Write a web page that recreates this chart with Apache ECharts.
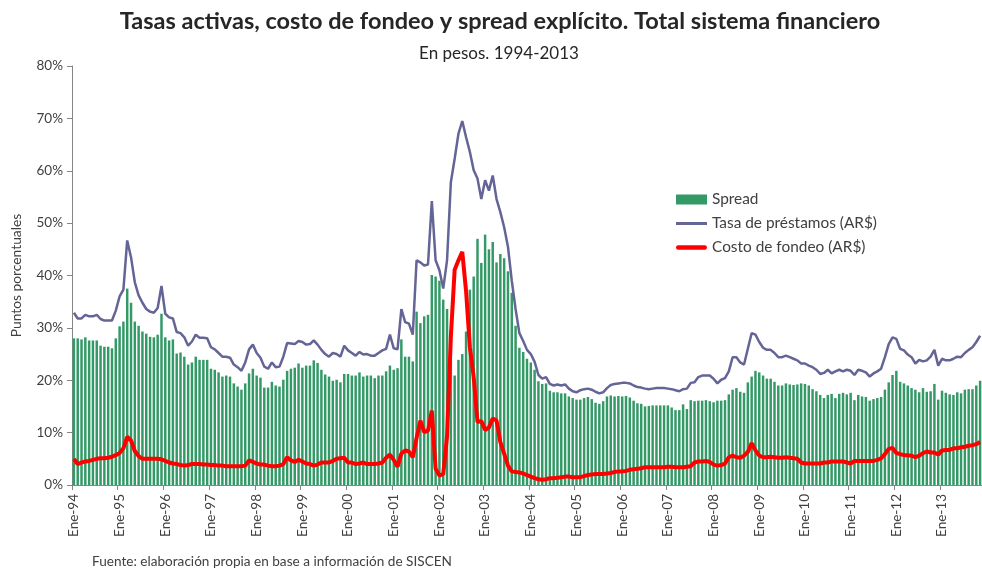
<!DOCTYPE html>
<html>
<head>
<meta charset="utf-8">
<script src="https://cdn.jsdelivr.net/npm/echarts@6/dist/echarts.min.js"></script>
<style>
  html, body { margin: 0; padding: 0; background: #fff; }
  #chart { width: 982px; height: 572px; }
</style>
</head>
<body>
<div id="chart"></div>
<script>
// meses Ene-94 .. Nov-13 (239 observaciones)
const monthNames = ['Ene','Feb','Mar','Abr','May','Jun','Jul','Ago','Sep','Oct','Nov','Dic'];
const yearLabels = ['94','95','96','97','98','99','00','01','02','03','04','05','06','07','08','09','10','11','12','13'];
const categories = [];
yearLabels.forEach(y => monthNames.forEach(m => categories.push(m + '-' + y)));
categories.length = 239;

// Spread (barras verdes), en %
const spread = [
  28.0, 28.0, 27.8, 28.2, 27.6, 27.6, 27.6, 26.6, 26.4, 26.4, 26.1, 28.0,
  30.3, 31.2, 37.5, 34.8, 31.2, 30.4, 29.3, 28.9, 28.3, 28.2, 28.7, 32.7,
  28.2, 27.6, 27.8, 25.1, 25.3, 24.5, 23.0, 23.4, 24.5, 23.9, 23.9, 23.9,
  22.2, 22.0, 21.5, 20.7, 20.9, 20.7, 19.4, 18.8, 18.2, 19.4, 21.3, 22.2,
  20.9, 20.5, 18.6, 18.6, 19.7, 19.0, 18.8, 20.1, 21.8, 22.2, 22.4, 23.2,
  22.4, 22.8, 22.8, 23.8, 23.3, 22.0, 21.1, 20.7, 19.9, 20.1, 19.6, 21.2,
  21.2, 20.9, 20.9, 21.5, 20.7, 20.9, 20.9, 20.4, 20.9, 20.9, 21.7, 22.8,
  22.0, 22.3, 27.8, 24.5, 24.5, 23.6, 33.1, 30.9, 32.2, 32.5, 40.1, 39.8,
  39.0, 35.4, 33.6, 29.5, 20.9, 23.9, 25.0, 29.3, 37.3, 39.8, 47.0, 42.4,
  47.8, 45.0, 46.4, 42.5, 44.1, 43.3, 40.8, 36.7, 30.4, 26.2, 25.4, 24.1,
  23.4, 22.0, 19.8, 19.3, 19.4, 18.0, 17.7, 17.7, 17.5, 17.5, 16.9, 16.6,
  16.3, 16.3, 16.6, 16.8, 16.4, 15.7, 15.5, 16.0, 16.9, 17.1, 16.9, 17.0,
  16.9, 17.0, 16.7, 16.1, 15.6, 15.5, 15.0, 15.1, 15.2, 15.2, 15.2, 15.2,
  15.2, 14.8, 14.3, 14.3, 15.4, 14.5, 16.2, 16.0, 16.1, 16.1, 16.2, 16.0,
  15.8, 16.1, 16.1, 16.2, 17.3, 18.2, 18.5, 17.8, 17.6, 19.6, 20.7, 21.8,
  21.5, 20.9, 20.3, 20.3, 19.7, 19.0, 19.0, 19.4, 19.2, 19.1, 19.2, 19.4,
  19.3, 19.0, 18.3, 17.9, 17.2, 16.6, 17.2, 17.4, 16.6, 17.4, 17.6, 17.3,
  17.6, 16.2, 17.2, 16.9, 16.8, 16.1, 16.4, 16.6, 16.8, 18.2, 19.6, 21.0,
  21.8, 19.7, 19.4, 19.0, 18.5, 18.2, 17.7, 18.5, 17.8, 17.9, 19.3, 16.3,
  18.0, 17.6, 17.3, 17.2, 17.7, 17.5, 18.2, 18.3, 18.3, 19.0, 19.9
];

// Tasa de préstamos (AR$), en %
const tasaPrestamos = [
  32.9, 31.8, 31.8, 32.5, 32.2, 32.2, 32.5, 31.7, 31.4, 31.4, 31.4, 33.3,
  36.0, 37.3, 46.7, 43.5, 38.7, 36.2, 34.8, 33.6, 33.1, 32.9, 33.8, 38.0,
  32.7, 32.0, 31.8, 29.2, 29.0, 28.2, 26.6, 27.4, 28.7, 28.1, 28.1, 28.0,
  26.3, 25.9, 25.2, 24.5, 24.5, 24.3, 23.0, 22.5, 21.8, 23.4, 25.9, 26.8,
  25.2, 24.3, 22.6, 22.2, 23.4, 22.5, 22.6, 24.5, 27.1, 27.0, 26.9, 27.5,
  27.3, 26.8, 26.9, 27.6, 26.8, 25.8, 25.0, 24.5, 25.2, 25.0, 24.5, 26.6,
  25.7, 25.2, 24.7, 25.4, 24.9, 25.0, 24.7, 24.7, 25.2, 25.7, 26.0, 28.7,
  26.1, 25.9, 33.6, 31.1, 30.8, 28.7, 42.9, 42.5, 41.9, 42.1, 54.2, 42.9,
  41.0, 37.5, 42.9, 57.8, 62.3, 67.1, 69.5, 66.4, 63.6, 60.1, 58.5, 54.6,
  58.2, 56.2, 59.1, 54.6, 52.1, 49.2, 45.5, 39.0, 33.6, 29.0, 27.5, 25.8,
  25.0, 23.5, 21.0, 20.3, 20.6, 19.3, 19.0, 19.2, 19.0, 19.2, 18.4, 17.9,
  17.7, 18.1, 18.3, 18.4, 18.2, 17.8, 17.5, 17.7, 18.5, 19.1, 19.3, 19.4,
  19.5, 19.5, 19.4, 19.0, 18.7, 18.6, 18.4, 18.3, 18.4, 18.5, 18.5, 18.5,
  18.4, 18.3, 18.1, 17.9, 18.3, 18.4, 19.5, 19.6, 20.6, 20.9, 20.9, 20.9,
  20.3, 19.4, 20.1, 20.4, 21.7, 24.4, 24.4, 23.4, 23.0, 26.0, 29.0, 28.7,
  27.3, 26.2, 25.8, 25.8, 25.2, 24.4, 24.4, 24.7, 24.4, 24.1, 23.8, 23.2,
  23.2, 22.8, 22.5, 22.0, 21.2, 21.4, 22.0, 21.3, 21.7, 22.0, 21.7, 22.0,
  21.8, 21.0, 22.0, 21.8, 21.5, 20.7, 21.3, 21.7, 22.2, 24.4, 26.9, 28.2,
  27.9, 26.0, 25.7, 24.9, 24.4, 23.2, 23.9, 23.6, 23.8, 24.5, 25.8, 22.8,
  24.1, 23.8, 23.8, 24.1, 24.5, 24.4, 25.2, 25.8, 26.3, 27.3, 28.5
];

// Costo de fondeo (AR$), en %
const costoFondeo = [
  5.0, 4.0, 4.3, 4.5, 4.6, 4.8, 5.0, 5.1, 5.1, 5.2, 5.4, 5.7,
  6.1, 7.0, 9.2, 8.5, 6.5, 5.5, 5.0, 5.0, 5.0, 5.0, 5.0, 4.9,
  4.6, 4.3, 4.1, 4.0, 3.8, 3.7, 3.8, 4.0, 4.0, 4.0, 3.9, 3.9,
  3.8, 3.8, 3.7, 3.7, 3.6, 3.6, 3.6, 3.6, 3.6, 3.7, 4.7, 4.4,
  4.1, 3.9, 3.9, 3.7, 3.6, 3.6, 3.7, 4.0, 5.3, 4.7, 4.4, 4.8,
  4.5, 4.1, 4.0, 3.7, 3.9, 4.3, 4.3, 4.3, 4.6, 5.0, 5.1, 5.2,
  4.3, 4.3, 4.0, 4.1, 4.3, 4.0, 4.0, 4.0, 4.1, 4.3, 5.2, 5.8,
  4.8, 3.5, 6.0, 6.6, 6.4, 5.3, 9.0, 12.3, 10.1, 10.4, 14.2, 3.1,
  1.8, 2.1, 9.3, 28.3, 41.1, 42.9, 44.5, 37.0, 26.3, 20.6, 12.0, 12.2,
  10.5, 11.0, 12.7, 12.3, 8.2, 6.0, 3.7, 2.6, 2.5, 2.4, 2.2, 1.9,
  1.6, 1.3, 1.1, 1.0, 1.1, 1.3, 1.3, 1.4, 1.5, 1.6, 1.6, 1.5,
  1.5, 1.5, 1.7, 1.9, 2.0, 2.1, 2.1, 2.1, 2.2, 2.3, 2.5, 2.6,
  2.6, 2.7, 2.9, 3.0, 3.1, 3.2, 3.4, 3.4, 3.4, 3.4, 3.4, 3.4,
  3.5, 3.5, 3.4, 3.4, 3.4, 3.5, 3.6, 4.3, 4.5, 4.5, 4.6, 4.4,
  3.9, 3.7, 3.8, 4.1, 5.3, 5.6, 5.3, 5.2, 5.6, 6.3, 8.0, 6.6,
  5.6, 5.3, 5.3, 5.4, 5.3, 5.2, 5.2, 5.3, 5.2, 5.1, 5.0, 4.3,
  4.1, 4.1, 4.1, 4.1, 4.1, 4.3, 4.3, 4.5, 4.5, 4.5, 4.5, 4.3,
  4.1, 4.6, 4.6, 4.6, 4.6, 4.6, 4.6, 4.8, 5.1, 5.9, 6.9, 7.1,
  6.1, 5.9, 5.7, 5.7, 5.6, 5.3, 5.6, 6.1, 6.4, 6.2, 6.2, 5.8,
  6.6, 6.7, 6.7, 7.0, 7.0, 7.2, 7.3, 7.5, 7.6, 7.8, 8.2
];

const yTicks = [0, 10, 20, 30, 40, 50, 60, 70, 80];

const FONT = 'Lato, "Liberation Sans", sans-serif';
const chart = echarts.init(document.getElementById('chart'));

chart.setOption({
  animation: false,
  textStyle: { fontFamily: FONT },
  title: [
    {
      text: 'Tasas activas, costo de fondeo y spread explícito. Total sistema financiero',
      left: 500, top: 9, textAlign: 'center', padding: 0,
      textStyle: { fontSize: 23.5, fontWeight: 'bold', color: '#262626', fontFamily: FONT }
    },
    {
      text: 'En pesos. 1994-2013',
      left: 499, top: 45, textAlign: 'center', padding: 0,
      textStyle: { fontSize: 17, fontWeight: 'normal', color: '#262626', fontFamily: FONT }
    },
    {
      text: 'Fuente: elaboración propia en base a información de SISCEN',
      left: 92, top: 555, padding: 0,
      textStyle: { fontSize: 13.6, fontWeight: 'normal', color: '#404040', fontFamily: FONT }
    }
  ],
  legend: {
    orient: 'vertical',
    left: 676, top: 192, padding: 0,
    itemWidth: 31, itemHeight: 10, itemGap: 9,
    textStyle: { fontSize: 15.4, color: '#404040', fontFamily: FONT, padding: [0, 0, 0, 0] },
    data: [
      { name: 'Spread', icon: 'rect' },
      { name: 'Tasa de préstamos (AR$)', icon: 'path://M0,0H31V3H0Z' },
      { name: 'Costo de fondeo (AR$)', icon: 'path://M2,0H29A2,2 0 0 1 29,4.5H2A2,2 0 0 1 2,0Z' }
    ]
  },
  grid: { left: 72, right: 0, top: 66, bottom: 87, containLabel: false },
  xAxis: {
    type: 'category',
    data: categories,
    boundaryGap: true,
    axisLine: { lineStyle: { color: '#868686', width: 1 } },
    axisTick: { show: true, interval: 11, length: 5, lineStyle: { color: '#868686' } },
    axisLabel: {
      interval: 11, rotate: 90, margin: 9,
      fontSize: 13.5, color: '#404040', fontFamily: FONT
    },
    splitLine: { show: false }
  },
  yAxis: {
    type: 'value',
    min: yTicks[0], max: yTicks[yTicks.length - 1], interval: 10,
    name: 'Puntos porcentuales',
    nameLocation: 'middle', nameRotate: 90, nameGap: 48,
    nameTextStyle: { fontSize: 13.8, color: '#404040', fontFamily: FONT },
    axisLine: { show: true, lineStyle: { color: '#868686', width: 1 } },
    axisTick: { show: true, length: 5, lineStyle: { color: '#868686' } },
    axisLabel: { formatter: '{value}%', fontSize: 13.5, color: '#404040', margin: 9, fontFamily: FONT },
    splitLine: { show: false }
  },
  series: [
    {
      name: 'Spread',
      type: 'bar',
      data: spread,
      barCategoryGap: '35%',
      itemStyle: { color: '#339966' }
    },
    {
      name: 'Tasa de préstamos (AR$)',
      type: 'line',
      data: tasaPrestamos,
      symbol: 'none',
      lineStyle: { color: '#646496', width: 2.5 },
      itemStyle: { color: '#646496' },
      z: 3
    },
    {
      name: 'Costo de fondeo (AR$)',
      type: 'line',
      data: costoFondeo,
      symbol: 'none',
      lineStyle: { color: '#FF0000', width: 4 },
      itemStyle: { color: '#FF0000' },
      z: 4
    }
  ]
});
</script>
</body>
</html>
